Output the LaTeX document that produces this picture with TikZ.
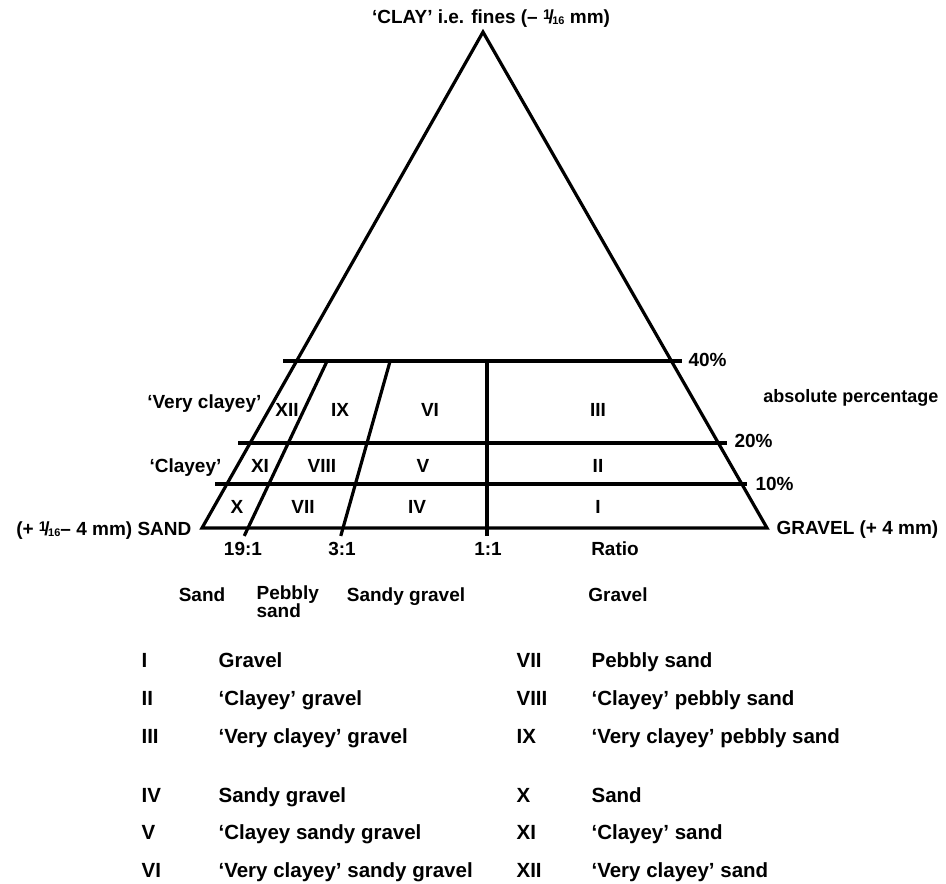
\documentclass[tikz,border=0pt]{standalone}
\usepackage{fontspec}
\setmainfont{Liberation Sans}
\usetikzlibrary{calc}
\newcommand{\sixteenth}{{\fontsize{14}{14}\selectfont\raisebox{0.25em}{1}}\kern-0.12em/\kern-0.08em{\fontsize{11}{11}\selectfont\raisebox{-0.15em}{16}}}
\begin{document}
\begin{tikzpicture}[x=1pt,y=-1pt,line width=3.2pt,
  lab/.style={font=\fontsize{19}{18}\selectfont\bfseries, inner sep=0pt},
  leg/.style={font=\fontsize{20.5}{23}\selectfont\bfseries, inner sep=0pt, anchor=base west}]
\useasboundingbox (0,0) rectangle (946,884);
% triangle
\coordinate (apex) at (483,32);
\coordinate (sand) at (202,528);
\coordinate (gravel) at (767,528);
\draw[line join=miter] (sand) -- (apex) -- (gravel) -- cycle;
% horizontal percentage lines
\coordinate (h40l) at (283,361); \coordinate (h40r) at (682,361);
\coordinate (h20l) at (238,443); \coordinate (h20r) at (727,443);
\coordinate (h10l) at (215,484); \coordinate (h10r) at (747,484);
\draw (h40l) -- (h40r);
\draw (h20l) -- (h20r);
\draw (h10l) -- (h10r);
% ratio lines
\coordinate (r19) at (248,528);
\coordinate (r3) at (343,528);
\coordinate (r1) at (487,528);
\draw ($(r19)!-0.016!(apex)$) -- ($(r19)!0.3367!(apex)$);
\draw ($(r3)!-0.016!(apex)$) -- ($(r3)!0.3367!(apex)$);
\draw ($(r1)+(0,8)$) -- ($(r1)+(0,-167)$);
% labels
\node[lab,anchor=base] (clay) at (491,23) {‘CLAY’ i.e. fines (– \sixteenth\ mm)};
\node[lab,anchor=base east] (vc) at (263,408) {‘Very clayey’};
\node[lab,anchor=base east] (cl) at (223,472) {‘Clayey’};
\node[lab,anchor=base east] (sandlab) at (193,535) {(+ \sixteenth– 4 mm) SAND};
\node[lab,anchor=base west] (gravlab) at (775,534) {GRAVEL (+ 4 mm)};
\node[lab,anchor=base west] (p40) at (687,366) {40\%};
\node[lab,anchor=base west] (p20) at (733,447) {20\%};
\node[lab,anchor=base west] (p10) at (754,490) {10\%};
\node[lab,anchor=base east,font=\fontsize{18}{18}\selectfont\bfseries] (abs) at (940,402) {absolute percentage};
% region numerals
\node[lab] (rXII) at (287,410) {XII};
\node[lab] (rIX) at (340,410) {IX};
\node[lab] (rVI) at (430,410) {VI};
\node[lab] (rIII) at (598,410) {III};
\node[lab] (rXI) at (260,466) {XI};
\node[lab] (rVIII) at (322,466) {VIII};
\node[lab] (rV) at (423,466) {V};
\node[lab] (rII) at (598,466) {II};
\node[lab] (rX) at (237,507) {X};
\node[lab] (rVII) at (303,507) {VII};
\node[lab] (rIV) at (417,507) {IV};
\node[lab] (rI) at (598,507) {I};
% ratios
\node[lab,anchor=base] (q19) at (243,555) {19:1};
\node[lab,anchor=base] (q3) at (342,555) {3:1};
\node[lab,anchor=base] (q1) at (488,555) {1:1};
\node[lab,anchor=base] (ratio) at (615,555) {Ratio};
% class names
\node[lab,anchor=base] (nsand) at (202,601) {Sand};
\node[lab,anchor=north west,align=left] (npeb) at (255,584) {Pebbly\\sand};
\node[lab,anchor=base] (nsg) at (406,601) {Sandy gravel};
\node[lab,anchor=base] (ngr) at (618,601) {Gravel};
% legend
\node[leg] (l1) at (140,667) {I};   \node[leg] (t1) at (217,667) {Gravel};
\node[leg] (l2) at (140,705) {II};  \node[leg] (t2) at (217,705) {‘Clayey’ gravel};
\node[leg] (l3) at (140,743) {III}; \node[leg] (t3) at (217,743) {‘Very clayey’ gravel};
\node[leg] (l4) at (140,802) {IV};  \node[leg] (t4) at (217,802) {Sandy gravel};
\node[leg] (l5) at (140,839) {V};   \node[leg] (t5) at (217,839) {‘Clayey sandy gravel};
\node[leg] (l6) at (140,877) {VI};  \node[leg] (t6) at (217,877) {‘Very clayey’ sandy gravel};
\node[leg] (l7) at (515,667) {VII};  \node[leg] (t7) at (590,667) {Pebbly sand};
\node[leg] (l8) at (515,705) {VIII}; \node[leg] (t8) at (590,705) {‘Clayey’ pebbly sand};
\node[leg] (l9) at (515,743) {IX};   \node[leg] (t9) at (590,743) {‘Very clayey’ pebbly sand};
\node[leg] (l10) at (515,802) {X};   \node[leg] (t10) at (590,802) {Sand};
\node[leg] (l11) at (515,839) {XI};  \node[leg] (t11) at (590,839) {‘Clayey’ sand};
\node[leg] (l12) at (515,877) {XII}; \node[leg] (t12) at (590,877) {‘Very clayey’ sand};
\end{tikzpicture}
\end{document}
